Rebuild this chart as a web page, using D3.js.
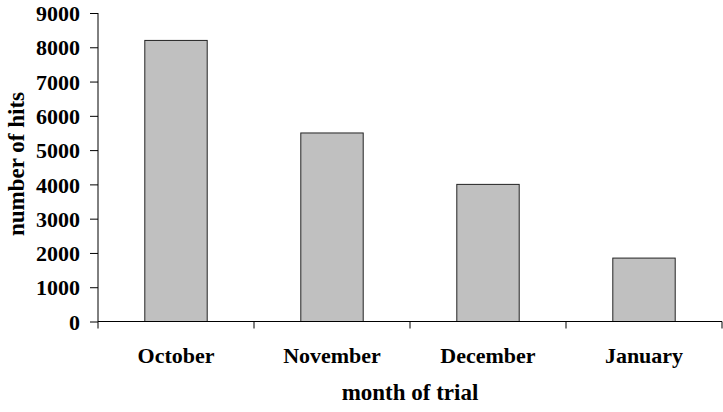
<!DOCTYPE html>
<html>
<head>
    <meta charset="utf-8">
    <style>
        body { margin: 0; background: white; }
        svg { display: block; }
        text { font-family: 'Liberation Serif', 'Times New Roman', serif; font-weight: bold; fill: black; }
    </style>
</head>
<body>
    <svg width="723" height="412"></svg>

<script src="https://d3js.org/d3.v7.min.js"></script>
<script>
    // data
    let months = ["October", "November", "December", "January"];
    let hits = [8200, 5500, 4000, 1850];
    let yTicks = [0, 1000, 2000, 3000, 4000, 5000, 6000, 7000, 8000, 9000];

    let svg = d3.select("svg");

    let plotLeft = 98, plotRight = 722, plotTop = 13, plotBottom = 321.5;

    let x = d3.scaleBand()
        .domain(months)
        .range([plotLeft, plotRight])
        .paddingInner(0.6)
        .paddingOuter(0.3);

    let y = d3.scaleLinear()
        .domain([0, 9000])
        .range([plotBottom, plotTop]);

    // bars
    svg.selectAll(".bar")
        .data(months)
        .join("rect")
        .attr("class", "bar")
        .attr("x", (d) => x(d))
        .attr("width", x.bandwidth())
        .attr("y", (d, i) => y(hits[i]))
        .attr("height", (d, i) => plotBottom - y(hits[i]))
        .style("fill", "#c0c0c0")
        .style("stroke", "#222")
        .style("stroke-width", 1);

    // y axis
    let yAxis = svg.append("g")
        .attr("transform", "translate(" + plotLeft + ",0)")
        .call(d3.axisLeft(y).tickValues(yTicks).tickSize(8).tickPadding(10).tickFormat(d3.format("d")))
        .attr("font-family", "'Liberation Serif', serif")
        .attr("font-size", null);
    yAxis.select(".domain").attr("d", "M0," + plotTop + "V" + plotBottom);
    yAxis.selectAll("text")
        .style("font-family", "'Liberation Serif', 'Times New Roman', serif")
        .style("font-weight", "bold")
        .style("font-size", "22px")
        .attr("dy", "0.35em");

    // x axis, ticks at band edges
    let edges = months.map((d) => x(d) - x.step() * x.paddingInner() / 2);
    edges.push(plotRight);
    let xAxis = svg.append("g")
        .attr("transform", "translate(0," + plotBottom + ")");
    xAxis.append("line")
        .attr("x1", plotLeft).attr("x2", plotRight)
        .attr("y1", 0).attr("y2", 0)
        .style("stroke", "black");
    xAxis.selectAll(".edge")
        .data(edges)
        .join("line")
        .attr("x1", (d) => d).attr("x2", (d) => d)
        .attr("y1", 0).attr("y2", 7)
        .style("stroke", "black");
    xAxis.selectAll(".lab")
        .data(months)
        .join("text")
        .attr("x", (d) => x(d) + x.bandwidth() / 2)
        .attr("y", 41)
        .attr("text-anchor", "middle")
        .style("font-size", "22px")
        .text((d) => d);

    // axis titles
    svg.append("text")
        .attr("x", 410)
        .attr("y", 400)
        .attr("text-anchor", "middle")
        .style("font-size", "23px")
        .text("month of trial");

    svg.append("text")
        .attr("transform", "translate(24,164) rotate(-90)")
        .attr("text-anchor", "middle")
        .style("font-size", "23px")
        .text("number of hits");
</script>
</body>
</html>
